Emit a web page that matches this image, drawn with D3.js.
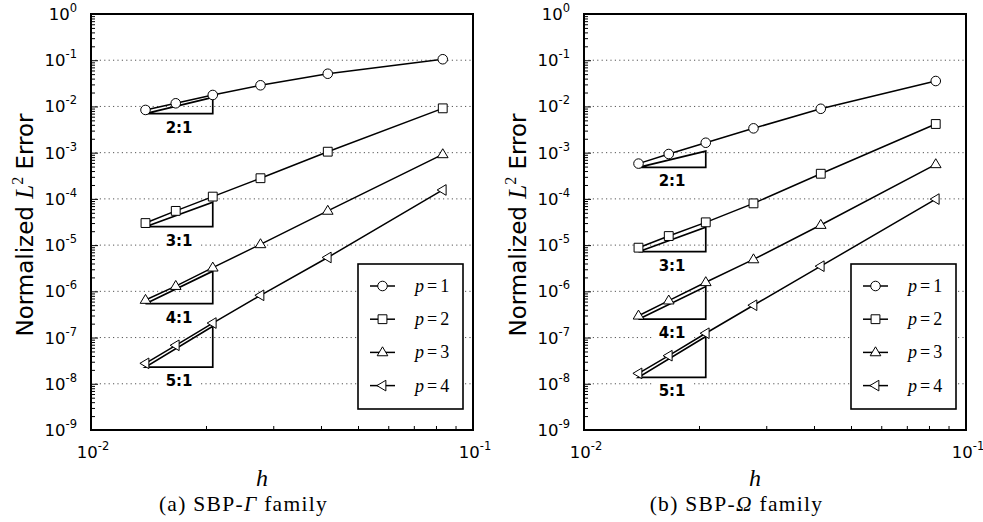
<!DOCTYPE html>
<html>
<head>
<meta charset="utf-8">
<script src="https://cdn.jsdelivr.net/npm/d3@7"></script>
<style>
  body{margin:0;background:#fff;}
  svg{display:block;}
</style>
</head>
<body>
<script>
// mesh sizes h (x axis)
const H=[0.013889,0.016667,0.020833,0.027778,0.041667,0.083333];
const ORDERS=["p = 1","p = 2","p = 3","p = 4"];
const MARKERS=["circle","square","triangle","left"];

// (a) SBP-Gamma family
const gammaP1=[8.4e-3,1.17e-2,1.77e-2,2.87e-2,5.1e-2,1.05e-1];
const gammaP2=[3.0e-5,5.5e-5,1.12e-4,2.8e-4,1.05e-3,9.1e-3];
const gammaP3=[6.5e-7,1.3e-6,3.25e-6,1.04e-5,5.5e-5,9.2e-4];
const gammaP4=[2.77e-8,6.8e-8,2.06e-7,8.2e-7,5.4e-6,1.56e-4];
const gammaTriBase=[7.0e-3,2.5e-5,5.4e-7,2.3e-8];

// (b) SBP-Omega family
const omegaP1=[5.8e-4,9.35e-4,1.64e-3,3.36e-3,8.9e-3,3.55e-2];
const omegaP2=[8.8e-6,1.57e-5,3.11e-5,8.0e-5,3.5e-4,4.17e-3];
const omegaP3=[2.97e-7,6.3e-7,1.57e-6,4.9e-6,2.72e-5,5.6e-4];
const omegaP4=[1.68e-8,4.05e-8,1.24e-7,5.0e-7,3.5e-6,9.9e-5];
const omegaTriBase=[4.8e-4,7.2e-6,2.5e-7,1.38e-8];

// slope triangles
const TRI_SLOPES=[2,3,4,5];
const TRI_LABELS=["2:1","3:1","4:1","5:1"];
const TRI_H=[0.013889,0.020833];

const Y_DECADES=[-9,-8,-7,-6,-5,-4,-3,-2,-1,0];
const X_DECADES=[-2,-1];

const w=983, h=522;
const plotW=382;
const plotTop=14, plotBottom=430;

const svg=d3.select("body").append("svg").attr("width",w).attr("height",h);

const sans="'DejaVu Sans', sans-serif";
const serif="'Liberation Serif', 'DejaVu Serif', serif";

function drawPanel(px,series,triBase,letter,greek){
  const g=svg.append("g").attr("transform",`translate(${px},0)`);
  const x=d3.scaleLog().domain([1e-2,1e-1]).range([0,plotW]);
  const y=d3.scaleLog().domain([1e-9,1]).range([plotBottom,plotTop]);

  // grid
  g.append("g").selectAll("line")
    .data(Y_DECADES.filter(e=>e>-9&&e<0))
    .join("line")
    .attr("x1",0).attr("x2",plotW)
    .attr("y1",e=>y(Math.pow(10,e))).attr("y2",e=>y(Math.pow(10,e)))
    .attr("stroke","#555").attr("stroke-width",1)
    .attr("stroke-dasharray","1.2,3.2");

  // minor ticks
  const yMinor=[];
  for(let e=-9;e<0;e++) for(let k=2;k<10;k++) yMinor.push(k*Math.pow(10,e));
  const xMinor=[];
  for(let k=2;k<10;k++) xMinor.push(k*1e-2);
  const yAx=g.append("g").call(d3.axisLeft(y).tickValues(yMinor).tickSize(-4).tickFormat(""));
  yAx.select(".domain").remove();
  yAx.selectAll("line").attr("stroke","#000").attr("stroke-width",1);
  const yMaj=g.append("g").call(d3.axisLeft(y).tickValues(Y_DECADES.map(e=>Math.pow(10,e))).tickSize(-7).tickFormat(""));
  yMaj.select(".domain").remove();
  yMaj.selectAll("line").attr("stroke","#000").attr("stroke-width",1);
  const xAx=g.append("g").attr("transform",`translate(0,${plotBottom})`)
    .call(d3.axisBottom(x).tickValues(xMinor).tickSize(-4).tickFormat(""));
  xAx.select(".domain").remove();
  xAx.selectAll("line").attr("stroke","#000").attr("stroke-width",1);

  // y tick labels
  const yl=g.append("g").selectAll("text").data(Y_DECADES).join("text")
    .attr("x",-14).attr("y",e=>y(Math.pow(10,e))+6)
    .attr("text-anchor","end")
    .style("font-family",sans).style("font-size","16.5px");
  yl.append("tspan").text("10");
  yl.append("tspan").attr("dy",-8).style("font-size","11.5px").text(e=>e===0?"0":"-"+(-e));

  // x tick labels
  const xl=g.append("g").selectAll("text").data(X_DECADES).join("text")
    .attr("x",e=>x(Math.pow(10,e))+2).attr("y",458)
    .attr("text-anchor","middle")
    .style("font-family",sans).style("font-size","16.5px");
  xl.append("tspan").text("10");
  xl.append("tspan").attr("dy",-8).style("font-size","11.5px").text(e=>"-"+(-e));

  // slope triangles
  TRI_SLOPES.forEach((s,i)=>{
    const b=triBase[i];
    const x0=x(TRI_H[0]), x1=x(TRI_H[1]);
    const y0=y(b), y1=y(b*Math.pow(TRI_H[1]/TRI_H[0],s));
    g.append("path")
      .attr("d",`M${x0},${y0}L${x1},${y0}L${x1},${y1}Z`)
      .attr("fill","none").attr("stroke","#000").attr("stroke-width",1.7)
      .attr("stroke-linejoin","miter");
    const cx=(x0+x1)/2;
    g.append("rect").attr("x",cx-19).attr("y",y0+5).attr("width",38).attr("height",17).attr("fill","#fff");
    g.append("text").attr("x",cx).attr("y",y0+19).attr("text-anchor","middle")
      .style("font-family",sans).style("font-weight","bold").style("font-size","15px")
      .text(TRI_LABELS[i]);
  });

  // series
  const line=d3.line().x((d,i)=>x(H[i])).y(d=>y(d));
  series.forEach((vals,si)=>{
    g.append("path").datum(vals).attr("d",line)
      .attr("fill","none").attr("stroke","#000").attr("stroke-width",1.5);
    g.append("g").selectAll("path").data(vals).join("path")
      .attr("transform",(d,i)=>`translate(${x(H[i])},${y(d)})`)
      .attr("d",markerPath(MARKERS[si]))
      .attr("fill","#fff").attr("stroke","#000").attr("stroke-width",1);
  });

  // spines
  g.append("rect").attr("x",0).attr("y",plotTop).attr("width",plotW).attr("height",plotBottom-plotTop)
    .attr("fill","none").attr("stroke","#000").attr("stroke-width",2);

  // legend
  const lg=g.append("g").attr("transform","translate(267,264)");
  lg.append("rect").attr("width",105).attr("height",145)
    .attr("fill","#fff").attr("stroke","#000").attr("stroke-width",1.6);
  ORDERS.forEach((lab,i)=>{
    const ly=22+i*33.2;
    lg.append("line").attr("x1",12).attr("x2",37).attr("y1",ly).attr("y2",ly)
      .attr("stroke","#000").attr("stroke-width",1.5);
    lg.append("path").attr("transform",`translate(24.5,${ly})`).attr("d",markerPath(MARKERS[i]))
      .attr("fill","#fff").attr("stroke","#000").attr("stroke-width",1);
    const t=lg.append("text").attr("x",57).attr("y",ly+6)
      .style("font-family",serif).style("font-size","18px");
    t.append("tspan").style("font-style","italic").text("p");
    t.append("tspan").attr("dx",3).text("=");
    t.append("tspan").attr("dx",3).text(lab.slice(-1));
  });

  // y label
  const yt=g.append("text")
    .attr("transform",`translate(${-58},225) rotate(-90)`)
    .attr("text-anchor","middle")
    .style("font-family",sans).style("font-size","23px");
  yt.append("tspan").text("Normalized ");
  yt.append("tspan").style("font-family",serif).style("font-style","italic").style("font-size","25px").text("L");
  yt.append("tspan").attr("dy",-10).style("font-family",serif).style("font-size","16px").text("2");
  yt.append("tspan").attr("dy",10).text(" Error");

  // x label
  g.append("text").attr("x",171).attr("y",486).attr("text-anchor","middle")
    .style("font-family",serif).style("font-style","italic").style("font-size","24px").text("h");

  // caption
  const cap=g.append("text").attr("x",152.5).attr("y",511).attr("text-anchor","middle")
    .style("font-family",serif).style("font-size","21.5px").style("letter-spacing","1.3px");
  cap.append("tspan").text(`(${letter}) SBP-`);
  cap.append("tspan").style("font-style","italic").text(greek);
  cap.append("tspan").text(" family");
}

function markerPath(kind){
  if(kind==="circle") return d3.symbol(d3.symbolCircle,72)();
  if(kind==="square") return d3.symbol(d3.symbolSquare,78)();
  const r=5.6;
  if(kind==="triangle") return `M0,${-r}L${r*0.95},${r*0.6}L${-r*0.95},${r*0.6}Z`;
  return `M${-r},0L${r*0.6},${-r*0.95}L${r*0.6},${r*0.95}Z`;
}

drawPanel(91,[gammaP1,gammaP2,gammaP3,gammaP4],gammaTriBase,"a","Γ");
drawPanel(584,[omegaP1,omegaP2,omegaP3,omegaP4],omegaTriBase,"b","Ω");
</script>
</body>
</html>
